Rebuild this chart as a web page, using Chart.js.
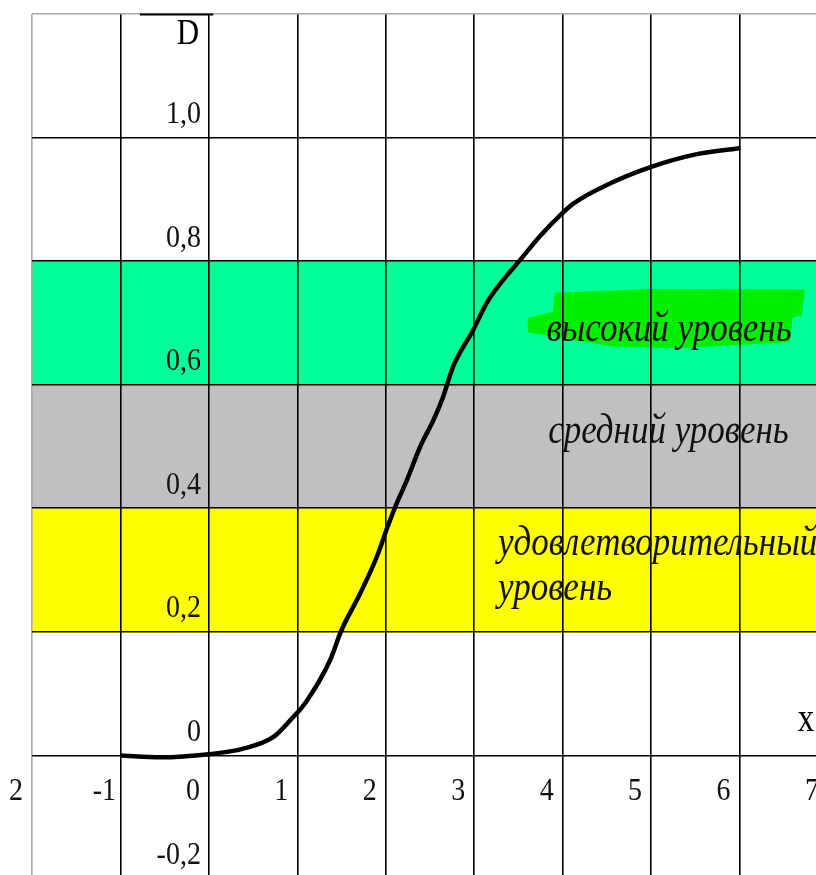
<!DOCTYPE html>
<html>
<head>
<meta charset="utf-8">
<script src="https://cdn.jsdelivr.net/npm/chart.js@4.4.1/dist/chart.umd.min.js"></script>
<style>
  html, body { margin: 0; padding: 0; overflow: hidden; background: #fff; }
  #wrap { width: 830px; height: 880px; }
</style>
</head>
<body>
<div id="wrap"><canvas id="c" width="830" height="880"></canvas></div>
<script>
// ---- data ----
const curveX = [-1.0, -0.55, 0.0, 0.39, 0.73, 0.92, 1.10, 1.37, 1.50, 1.71, 1.90, 2.02, 2.10, 2.24, 2.39, 2.54, 2.65, 2.76, 2.99, 3.14, 3.33, 3.52, 3.74, 4.00, 4.12, 4.54, 5.01, 5.48, 6.01];
const curveD = [0.000, -0.003, 0.002, 0.011, 0.030, 0.057, 0.087, 0.154, 0.203, 0.262, 0.322, 0.370, 0.400, 0.446, 0.500, 0.543, 0.581, 0.629, 0.689, 0.732, 0.770, 0.802, 0.840, 0.878, 0.893, 0.926, 0.953, 0.972, 0.983];

const xTickValues = [-2, -1, 0, 1, 2, 3, 4, 5, 6, 7];
const xTickLabels = ['2', '-1', '0', '1', '2', '3', '4', '5', '6', '7'];
const yTickValues = [-0.2, 0, 0.2, 0.4, 0.6, 0.8, 1.0];
const yTickLabels = ['-0,2', '0', '0,2', '0,4', '0,6', '0,8', '1,0'];

const bandLow  = [0.2, 0.4, 0.6];
const bandHigh = [0.4, 0.6, 0.8];
const bandNames = ['удовлетворительный уровень', 'средний уровень', 'высокий уровень'];

// highlighter stroke behind "высокий уровень" (data coordinates)
const markX = [3.606, 3.889, 3.911, 4.985, 6.737, 6.703, 6.602, 6.568, 5.324, 4.556, 3.606];
const markD = [0.708, 0.718, 0.749, 0.755, 0.754, 0.712, 0.709, 0.669, 0.659, 0.662, 0.685];

const axisNameY = 'D';
const axisNameX = 'x';

// ---- styles ----
const bandColors = ['#ffff00', '#c0c0c0', '#00ff99'];
const markColor = '#00ee00';
const gridColor = '#000000';
const borderGray = '#a8a8a8';

function stretchedText(ctx, text, x, y, align, baseline, font, sy, color) {
  ctx.save();
  ctx.font = font;
  ctx.fillStyle = color || '#000';
  ctx.textAlign = align;
  ctx.textBaseline = baseline;
  ctx.translate(x, y);
  ctx.scale(1, sy);
  ctx.fillText(text, 0, 0);
  ctx.restore();
}

const backgroundPlugin = {
  id: 'bands',
  beforeDraw(chart) {
    const {ctx, chartArea: a, scales: {x, y}} = chart;
    ctx.save();
    ctx.fillStyle = '#fff';
    ctx.fillRect(0, 0, chart.width, chart.height);
    for (let i = 0; i < bandLow.length; i++) {
      const top = y.getPixelForValue(bandHigh[i]);
      const bot = y.getPixelForValue(bandLow[i]);
      ctx.fillStyle = bandColors[i];
      ctx.fillRect(a.left, top, a.right - a.left, bot - top);
    }
    ctx.beginPath();
    for (let i = 0; i < markX.length; i++) {
      const px = x.getPixelForValue(markX[i]);
      const py = y.getPixelForValue(markD[i]);
      if (i === 0) ctx.moveTo(px, py); else ctx.lineTo(px, py);
    }
    ctx.closePath();
    ctx.fillStyle = markColor;
    ctx.fill();
    ctx.restore();
  },
  afterDraw(chart) {
    const {ctx, chartArea: a, scales: {x, y}} = chart;
    // dark segment on the top border near the D axis
    ctx.save();
    ctx.strokeStyle = '#000';
    ctx.lineWidth = 2;
    ctx.beginPath();
    ctx.moveTo(x.getPixelForValue(-0.78), a.top + 0.5);
    ctx.lineTo(x.getPixelForValue(0.05), a.top + 0.5);
    ctx.stroke();
    ctx.restore();

    const tickFont = '28px "Liberation Serif"';
    const x0 = x.getPixelForValue(0);
    const y0 = y.getPixelForValue(0);
    yTickValues.forEach((v, i) => {
      stretchedText(ctx, yTickLabels[i], x0 - 8, y.getPixelForValue(v) - 23, 'right', 'middle', tickFont, 1.15, '#111');
    });
    xTickValues.forEach((v, i) => {
      stretchedText(ctx, xTickLabels[i], x.getPixelForValue(v) - 16, y0 + 36, 'center', 'middle', tickFont, 1.15, '#111');
    });
    stretchedText(ctx, axisNameY, x0 - 21, a.top + 21, 'center', 'middle', '31px "Liberation Serif"', 1.15);
    stretchedText(ctx, axisNameX, x.getPixelForValue(7) - 22, y0 - 35, 'center', 'middle', '33px "Liberation Serif"', 1.2);

    const lblFont = 'italic 35px "Liberation Serif"';
    const sy = 1.2;
    stretchedText(ctx, bandNames[2], x.getPixelForValue(3.816), y.getPixelForValue(0.670), 'left', 'alphabetic', lblFont, sy, '#111');
    stretchedText(ctx, bandNames[1], x.getPixelForValue(3.836), y.getPixelForValue(0.505), 'left', 'alphabetic', lblFont, sy, '#111');
    const words = bandNames[0].split(' ');
    stretchedText(ctx, words[0], x.getPixelForValue(3.270), y.getPixelForValue(0.324), 'left', 'alphabetic', lblFont, sy, '#111');
    stretchedText(ctx, words[1], x.getPixelForValue(3.270), y.getPixelForValue(0.2515), 'left', 'alphabetic', lblFont, sy, '#111');
  }
};

new Chart(document.getElementById('c'), {
  type: 'line',
  data: {
    datasets: [{
      data: curveX.map((v, i) => ({x: v, y: curveD[i]})),
      borderColor: '#000',
      borderWidth: 4.5,
      pointRadius: 0,
      cubicInterpolationMode: 'monotone',
      fill: false
    }]
  },
  options: {
    responsive: false,
    devicePixelRatio: 1,
    animation: false,
    layout: { padding: { left: 32, top: 14, right: 2, bottom: 1 } },
    plugins: { legend: { display: false }, tooltip: { enabled: false } },
    scales: {
      x: {
        type: 'linear', min: -2, max: 7,
        ticks: { display: false, stepSize: 1 },
        grid: {
          drawTicks: false,
          lineWidth: 1.6,
          color: c => (c.tick && c.tick.value === -2) ? borderGray : gridColor
        },
        border: { display: false }
      },
      y: {
        type: 'linear', min: -0.2, max: 1.2,
        ticks: { display: false, stepSize: 0.2 },
        grid: {
          drawTicks: false,
          lineWidth: 1.6,
          color: c => (c.tick && Math.abs(c.tick.value - 1.2) < 1e-6) ? borderGray : gridColor
        },
        border: { display: false }
      }
    }
  },
  plugins: [backgroundPlugin]
});
</script>
</body>
</html>
